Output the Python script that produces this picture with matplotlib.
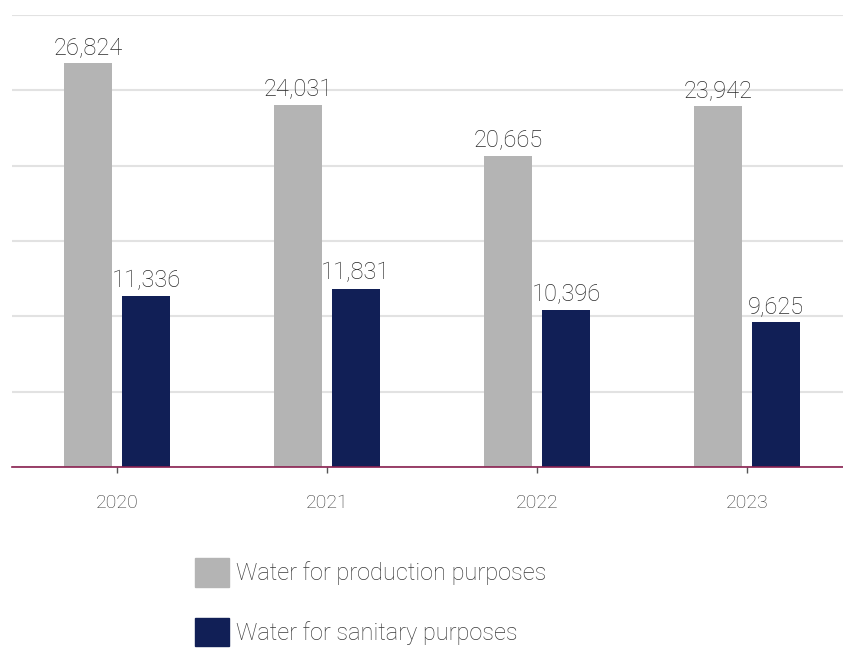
import matplotlib.pyplot as plt
import numpy as np
from matplotlib.patches import Patch

years = ['2020', '2021', '2022', '2023']
production = [26824, 24031, 20665, 23942]
sanitary = [11336, 11831, 10396, 9625]
series_names = ['Water for production purposes', 'Water for sanitary purposes']

gray = '#b4b4b4'
navy = '#111f56'

plt.rcParams['font.family'] = ['Roboto', 'DejaVu Sans']

fig = plt.figure(figsize=(8.43, 6.48), dpi=100)
# axes runs a bit past the right edge, like the cropped source
ax = fig.add_axes([12 / 843, 1 - 467 / 648, 840 / 843, (467 - 15) / 648])

x = np.arange(len(years))
w = 0.229
off = 0.138
b1 = ax.bar(x - off, production, w, color=gray, zorder=2)
b2 = ax.bar(x + off, sanitary, w, color=navy, zorder=2)

for bars, vals in ((b1, production), (b2, sanitary)):
    for rect, v in zip(bars, vals):
        ax.annotate(f'{v:,}', (rect.get_x() + rect.get_width() / 2, v),
                    xytext=(0, 3), textcoords='offset points',
                    ha='center', va='bottom', fontsize=17, color='#2a2a2a',
                    fontweight='light')

ax.set_xlim(-0.5, 3.5)
ax.set_ylim(0, 30000)
ax.set_yticks(np.arange(0, 30001, 5000))
ax.set_yticklabels([])
ax.tick_params(axis='y', length=0)
ax.yaxis.grid(True, color='#e2e2e2', linewidth=1.5, zorder=0)
ax.set_axisbelow(True)

ax.set_xticks(x)
ax.set_xticklabels(years, fontsize=14, color='#3a3a3a', fontweight='light')
ax.tick_params(axis='x', length=4, width=1, color='#555555', pad=15.5)

for s in ['top', 'right', 'left']:
    ax.spines[s].set_visible(False)
ax.spines['bottom'].set_color('#8a2050')
ax.spines['bottom'].set_linewidth(1.2)
ax.spines['bottom'].set_zorder(3)

handles = [Patch(color=gray), Patch(color=navy)]
leg = fig.legend(handles, series_names, loc='upper left',
                 bbox_to_anchor=(195 / 843, 1 - 558 / 648), frameon=False,
                 fontsize=17, handlelength=1.45, handleheight=1.5,
                 handletextpad=0.3, labelspacing=1.3, borderpad=0,
                 borderaxespad=0, labelcolor='#3a3a3a')
for t in leg.get_texts():
    t.set_fontweight('light')

fig.savefig('out.png', dpi=100)
